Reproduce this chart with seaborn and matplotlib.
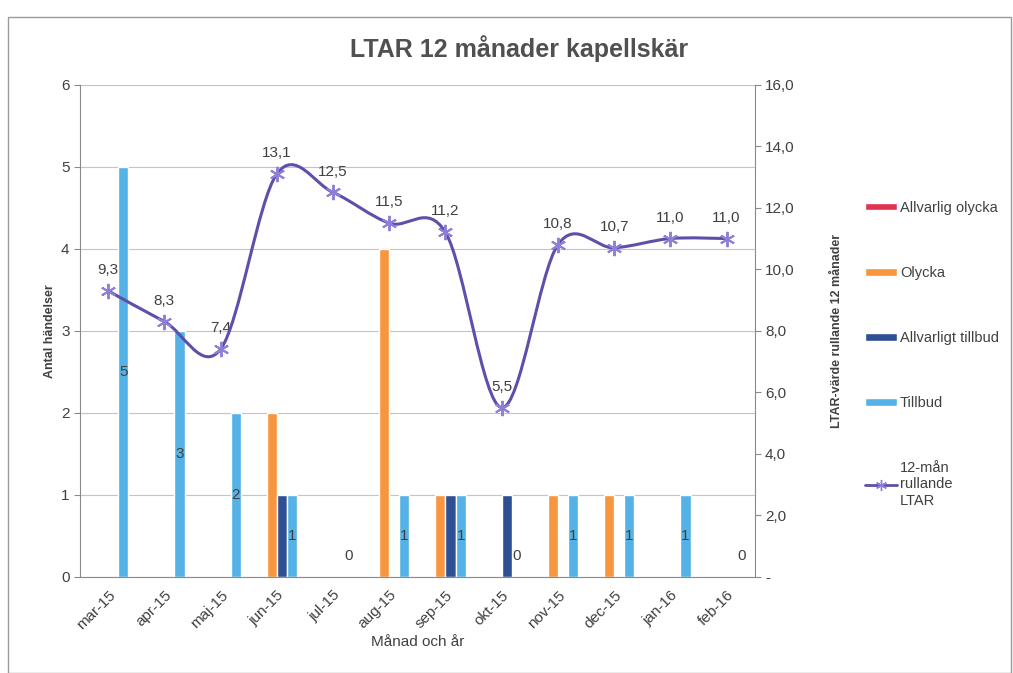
import numpy as np
import pandas as pd
import matplotlib
matplotlib.use("Agg")
import matplotlib.pyplot as plt
import seaborn as sns
from matplotlib.path import Path
from matplotlib.patches import PathPatch, Patch, Rectangle
from matplotlib.lines import Line2D

manader = ["mar-15", "apr-15", "maj-15", "jun-15", "jul-15", "aug-15",
           "sep-15", "okt-15", "nov-15", "dec-15", "jan-16", "feb-16"]
allvarlig_olycka = [0, 0, 0, 0, 0, 0, 0, 0, 0, 0, 0, 0]
olycka = [0, 0, 0, 2, 0, 4, 1, 0, 1, 1, 0, 0]
allvarligt_tillbud = [0, 0, 0, 1, 0, 0, 1, 1, 0, 0, 0, 0]
tillbud = [5, 3, 2, 1, 0, 1, 1, 0, 1, 1, 1, 0]
ltar = [9.3, 8.3, 7.4, 13.1, 12.5, 11.5, 11.2, 5.5, 10.8, 10.7, 11.0, 11.0]

serier = ["Allvarlig olycka", "Olycka", "Allvarligt tillbud", "Tillbud"]
farger = ["#E2324F", "#F7963F", "#2E4F94", "#55B2E6"]
linjefarg = "#5E4FAA"
textfarg = "#404040"

df = pd.DataFrame({
    "Månad": manader * 4,
    "Serie": np.repeat(serier, len(manader)),
    "Antal": allvarlig_olycka + olycka + allvarligt_tillbud + tillbud,
})

sns.set_style("white")
plt.rcParams["font.family"] = ["Liberation Sans", "DejaVu Sans"]

fig = plt.figure(figsize=(10.13, 6.73), dpi=100)
ax = fig.add_axes([0.079, 0.143, 0.666, 0.731])

sns.barplot(data=df, x="Månad", y="Antal", hue="Serie", hue_order=serier,
            palette=farger, width=0.72, saturation=1, legend=False, ax=ax)

ax.set_ylim(0, 6)
ax.set_xlim(-0.5, len(manader) - 0.5)
ax.set_yticks(range(0, 7))
ax.yaxis.grid(True, color="#c4c4c4", linewidth=0.8)
ax.set_axisbelow(True)
for s in ["top", "right"]:
    ax.spines[s].set_visible(False)
for s in ["left", "bottom"]:
    ax.spines[s].set_color("#8a8a8a")
    ax.spines[s].set_linewidth(0.8)

# ticks at category boundaries, like Excel
ax.set_xticks(np.arange(len(manader)))
ax.set_xticklabels(manader, rotation=45, ha="right", rotation_mode="anchor",
                   fontsize=11, color=textfarg)
ax.set_xticks(np.arange(len(manader) + 1) - 0.5, minor=True)
ax.tick_params(axis="x", which="major", length=0, pad=8)
ax.tick_params(axis="x", which="minor", length=4, color="#8a8a8a", direction="out")
ax.tick_params(axis="y", labelsize=11, labelcolor=textfarg, length=4,
               color="#8a8a8a", direction="out")
ax.set_xlabel("Månad och år", fontsize=11, color=textfarg, labelpad=2)
ax.set_ylabel("Antal händelser", fontsize=9, color=textfarg, fontweight="bold",
              labelpad=4)

# value labels on the Tillbud bars
for bar, v in zip(ax.containers[3], tillbud):
    ax.text(bar.get_x() + bar.get_width() / 2, max(v / 2, 0.25), str(v),
            ha="center", va="center", fontsize=11, color=textfarg)

# secondary axis with smoothed line
ax2 = ax.twinx()
ax2.set_ylim(0, 16)
ax2.set_yticks(np.arange(0, 17, 2))
ax2.set_yticklabels(["-"] + [f"{t:.1f}".replace(".", ",") for t in np.arange(2, 17, 2)])
ax2.tick_params(axis="y", labelsize=11, labelcolor=textfarg, length=4,
                color="#8a8a8a", direction="out")
for s in ["top", "left", "bottom"]:
    ax2.spines[s].set_visible(False)
ax2.spines["right"].set_color("#8a8a8a")
ax2.spines["right"].set_linewidth(0.8)
ax2.set_ylabel("LTAR-värde rullande 12 månader", fontsize=9, color=textfarg,
               fontweight="bold", labelpad=26)

xs = np.arange(len(ltar), dtype=float)
ys = np.array(ltar)
px = np.concatenate([[xs[0]], xs, [xs[-1]]])
py = np.concatenate([[ys[0]], ys, [ys[-1]]])
verts = [(xs[0], ys[0])]
codes = [Path.MOVETO]
for i in range(len(xs) - 1):
    c1 = (px[i + 1] + (px[i + 2] - px[i]) / 6, py[i + 1] + (py[i + 2] - py[i]) / 6)
    c2 = (px[i + 2] - (px[i + 3] - px[i + 1]) / 6, py[i + 2] - (py[i + 3] - py[i + 1]) / 6)
    verts += [c1, c2, (xs[i + 1], ys[i + 1])]
    codes += [Path.CURVE4] * 3
ax2.add_patch(PathPatch(Path(verts, codes), fill=False, edgecolor=linjefarg,
                        linewidth=2.2, zorder=4))
stjarna = (6, 2, 0)
ax2.plot(xs, ys, linestyle="none", marker=stjarna, markersize=11,
         markeredgecolor="#8F7FD6", markeredgewidth=1.4, zorder=5)
for x, y in zip(xs, ys):
    ax2.annotate(f"{y:.1f}".replace(".", ","), (x, y), xytext=(0, 10),
                 textcoords="offset points", ha="center", va="bottom",
                 fontsize=11, color=textfarg)

fig.suptitle("LTAR 12 månader kapellskär", x=0.512, y=0.948, fontsize=18,
             fontweight="bold", color="#505050")

handles = [Patch(facecolor=c) for c in farger]
handles.append(Line2D([], [], color=linjefarg, linewidth=2, marker=stjarna,
                      markersize=8, markeredgecolor="#8F7FD6"))
labels = serier + ["12-mån\nrullande\nLTAR"]
fig.legend(handles, labels, loc="upper left", bbox_to_anchor=(0.848, 0.71),
           frameon=False, fontsize=10.5, labelspacing=3.5, handlelength=2.2,
           handleheight=0.4, handletextpad=0.2, borderaxespad=0,
           labelcolor=textfarg)

fig.patches.append(Rectangle((0.008, 0.0), 0.99, 0.975, transform=fig.transFigure,
                             fill=False, edgecolor="#9a9a9a", linewidth=1.0))

fig.savefig("out.png", dpi=100)
